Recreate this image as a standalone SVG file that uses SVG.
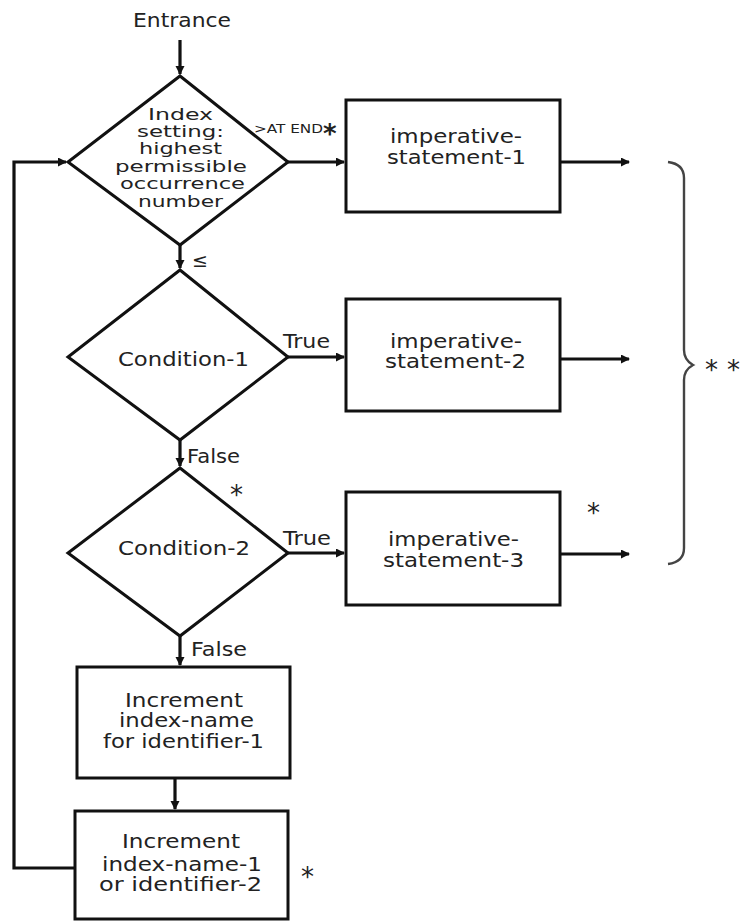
<svg xmlns="http://www.w3.org/2000/svg" width="743" height="922" viewBox="0 0 743 922">
<style>
.t{font-family:"DejaVu Sans","Liberation Sans",sans-serif;font-size:19px;fill:#222;}
.d{font-family:"DejaVu Sans","Liberation Sans",sans-serif;font-size:15px;fill:#222;}
.s{font-family:"DejaVu Sans","Liberation Sans",sans-serif;font-size:12px;fill:#222;}
.a{font-family:"DejaVu Sans","Liberation Sans",sans-serif;font-size:26px;fill:#222;}
.shape{fill:#fff;stroke:#111;stroke-width:3;}
.c{fill:none;stroke:#111;stroke-width:3.2;}
.br{fill:none;stroke:#444;stroke-width:2.4;}
</style>
<defs>
<marker id="ah" markerWidth="12" markerHeight="12" refX="8" refY="4.5" orient="auto" markerUnits="userSpaceOnUse">
<path d="M0,0 L9,4.5 L0,9 z" fill="#111"/>
</marker>
</defs>
<text class="t" x="182" y="27" text-anchor="middle" textLength="98" lengthAdjust="spacingAndGlyphs">Entrance</text>
<g id="connectors">
<path class="c" d="M180,40 L180,74" marker-end="url(#ah)"/>
<path class="c" d="M288,162 L344,162" marker-end="url(#ah)"/>
<path class="c" d="M560,162 L629,162" marker-end="url(#ah)"/>
<path class="c" d="M180,245 L180,268" marker-end="url(#ah)"/>
<path class="c" d="M288,357 L344,357" marker-end="url(#ah)"/>
<path class="c" d="M560,359 L629,359" marker-end="url(#ah)"/>
<path class="c" d="M180,440 L180,466" marker-end="url(#ah)"/>
<path class="c" d="M288,553 L344,553" marker-end="url(#ah)"/>
<path class="c" d="M560,554 L629,554" marker-end="url(#ah)"/>
<path class="c" d="M180,636 L180,665" marker-end="url(#ah)"/>
<path class="c" d="M175,778 L175,809" marker-end="url(#ah)"/>
<path class="c" d="M75,868 L14,868 L14,162 L66,162" marker-end="url(#ah)"/>
<path class="br" d="M668,162 Q684,164 684,178 L684,350 Q684,360 693,365 Q684,370 684,380 L684,548 Q684,562 668,564"/>
</g>
<g id="d1">
<polygon class="shape" points="180,76 288,162 180,245 68,162"/>
<text class="d" x="180.5" y="120" text-anchor="middle" textLength="65" lengthAdjust="spacingAndGlyphs">Index</text>
<text class="d" x="180.5" y="137" text-anchor="middle" textLength="87" lengthAdjust="spacingAndGlyphs">setting:</text>
<text class="d" x="180.5" y="154" text-anchor="middle" textLength="83" lengthAdjust="spacingAndGlyphs">highest</text>
<text class="d" x="181" y="172" text-anchor="middle" textLength="132" lengthAdjust="spacingAndGlyphs">permissible</text>
<text class="d" x="182.5" y="189" text-anchor="middle" textLength="125" lengthAdjust="spacingAndGlyphs">occurrence</text>
<text class="d" x="180.5" y="207" text-anchor="middle" textLength="85" lengthAdjust="spacingAndGlyphs">number</text>
</g>
<text class="s" x="254" y="133" textLength="69" lengthAdjust="spacingAndGlyphs">&gt;AT END</text>
<text class="a" x="323" y="143" font-weight="bold">*</text>
<text class="t" x="192" y="267" font-size="18">≤</text>
<g id="b1">
<rect class="shape" x="346" y="100" width="214" height="112"/>
<text class="t" x="456" y="143" text-anchor="middle" textLength="132" lengthAdjust="spacingAndGlyphs">imperative-</text>
<text class="t" x="456.5" y="164" text-anchor="middle" textLength="139" lengthAdjust="spacingAndGlyphs">statement-1</text>
</g>
<g id="d2">
<polygon class="shape" points="180,270 288,357 180,440 68,357"/>
<text class="t" x="183.5" y="366" text-anchor="middle" textLength="131" lengthAdjust="spacingAndGlyphs">Condition-1</text>
</g>
<text class="t" x="283" y="348" textLength="47" lengthAdjust="spacingAndGlyphs">True</text>
<g id="b2">
<rect class="shape" x="346" y="299" width="214" height="112"/>
<text class="t" x="456" y="348" text-anchor="middle" textLength="132" lengthAdjust="spacingAndGlyphs">imperative-</text>
<text class="t" x="455.5" y="368" text-anchor="middle" textLength="141" lengthAdjust="spacingAndGlyphs">statement-2</text>
</g>
<text class="t" x="187" y="463" textLength="53" lengthAdjust="spacingAndGlyphs">False</text>
<g id="d3">
<polygon class="shape" points="180,468 288,553 180,636 68,553"/>
<text class="t" x="184" y="555" text-anchor="middle" textLength="132" lengthAdjust="spacingAndGlyphs">Condition-2</text>
</g>
<text class="a" x="230" y="504">*</text>
<text class="t" x="283" y="545" textLength="48" lengthAdjust="spacingAndGlyphs">True</text>
<g id="b3">
<rect class="shape" x="346" y="492" width="214" height="113"/>
<text class="t" x="453.5" y="546" text-anchor="middle" textLength="131" lengthAdjust="spacingAndGlyphs">imperative-</text>
<text class="t" x="453.5" y="567" text-anchor="middle" textLength="141" lengthAdjust="spacingAndGlyphs">statement-3</text>
</g>
<text class="a" x="587" y="522">*</text>
<text class="a" x="705" y="379">*</text>
<text class="a" x="727" y="379">*</text>
<text class="t" x="191" y="656" textLength="56" lengthAdjust="spacingAndGlyphs">False</text>
<g id="b4">
<rect class="shape" x="77" y="667" width="213" height="111"/>
<text class="t" x="184" y="707" text-anchor="middle" textLength="118" lengthAdjust="spacingAndGlyphs">Increment</text>
<text class="t" x="186.5" y="727" text-anchor="middle" textLength="135" lengthAdjust="spacingAndGlyphs">index-name</text>
<text class="t" x="183.5" y="748" text-anchor="middle" textLength="161" lengthAdjust="spacingAndGlyphs">for identifier-1</text>
</g>
<g id="b5">
<rect class="shape" x="75" y="811" width="213" height="108"/>
<text class="t" x="181" y="848" text-anchor="middle" textLength="118" lengthAdjust="spacingAndGlyphs">Increment</text>
<text class="t" x="182" y="871" text-anchor="middle" textLength="160" lengthAdjust="spacingAndGlyphs">index-name-1</text>
<text class="t" x="180.5" y="891" text-anchor="middle" textLength="163" lengthAdjust="spacingAndGlyphs">or  identifier-2</text>
</g>
<text class="a" x="301" y="886">*</text>
</svg>
